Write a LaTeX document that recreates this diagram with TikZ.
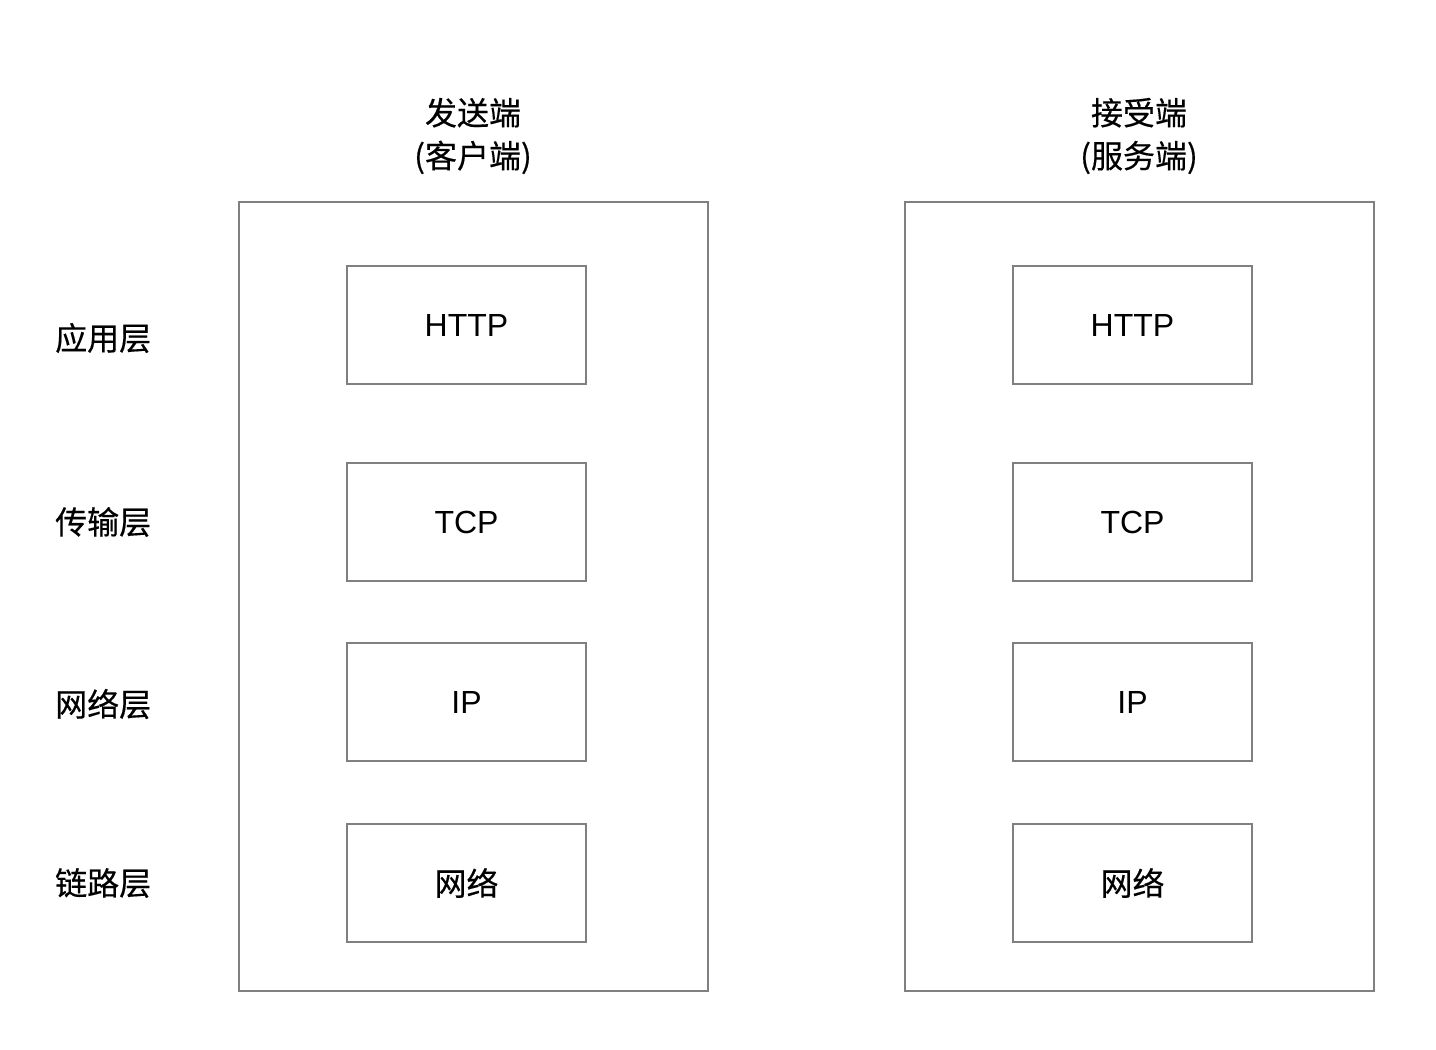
\documentclass[tikz,border=0pt]{standalone}
\usepackage{fontspec}
\setmainfont{Liberation Sans}
\newfontfamily\cjk[FakeBold=0.4]{Noto Sans CJK SC}
\usetikzlibrary{positioning}
\definecolor{boxgray}{RGB}{128,128,128}

\begin{document}
\begin{tikzpicture}[x=1pt,y=-1pt, font=\fontsize{32}{43}\selectfont,
	hostbox/.style={shape=rectangle, draw=boxgray, line width=1.6pt, minimum width=469pt, minimum height=789pt, inner sep=0pt},
	protobox/.style={shape=rectangle, draw=boxgray, line width=1.6pt, minimum width=239pt, minimum height=118pt, inner sep=0pt},
	title/.style={align=center, font=\fontsize{32}{43}\selectfont\cjk},
	layer/.style={anchor=west, inner sep=0pt, font=\fontsize{32}{43}\selectfont\cjk}]
	\useasboundingbox (0,0) rectangle (1436,1050);

	% Sender side
	\node [hostbox] (sender) at (473.5,596.5) {};
	\node [title] (sendertitle) at (473,136) {发送端\\(客户端)};
	\node [protobox] (shttp) at (466.5,325) {HTTP};
	\node [protobox] (stcp) at (466.5,522) {TCP};
	\node [protobox] (sip) at (466.5,702) {IP};
	\node [protobox, font=\fontsize{32}{43}\selectfont\cjk] (snet) at (466.5,883) {网络};

	% Receiver side
	\node [hostbox] (receiver) at (1139.5,596.5) {};
	\node [title] (receivertitle) at (1139,136) {接受端\\(服务端)};
	\node [protobox] (rhttp) at (1132.5,325) {HTTP};
	\node [protobox] (rtcp) at (1132.5,522) {TCP};
	\node [protobox] (rip) at (1132.5,702) {IP};
	\node [protobox, font=\fontsize{32}{43}\selectfont\cjk] (rnet) at (1132.5,883) {网络};

	% Layer names
	\node [layer] (app) at (55,338) {应用层};
	\node [layer] (trans) at (55,522) {传输层};
	\node [layer] (netl) at (55,704) {网络层};
	\node [layer] (link) at (55,883) {链路层};
\end{tikzpicture}
\end{document}
